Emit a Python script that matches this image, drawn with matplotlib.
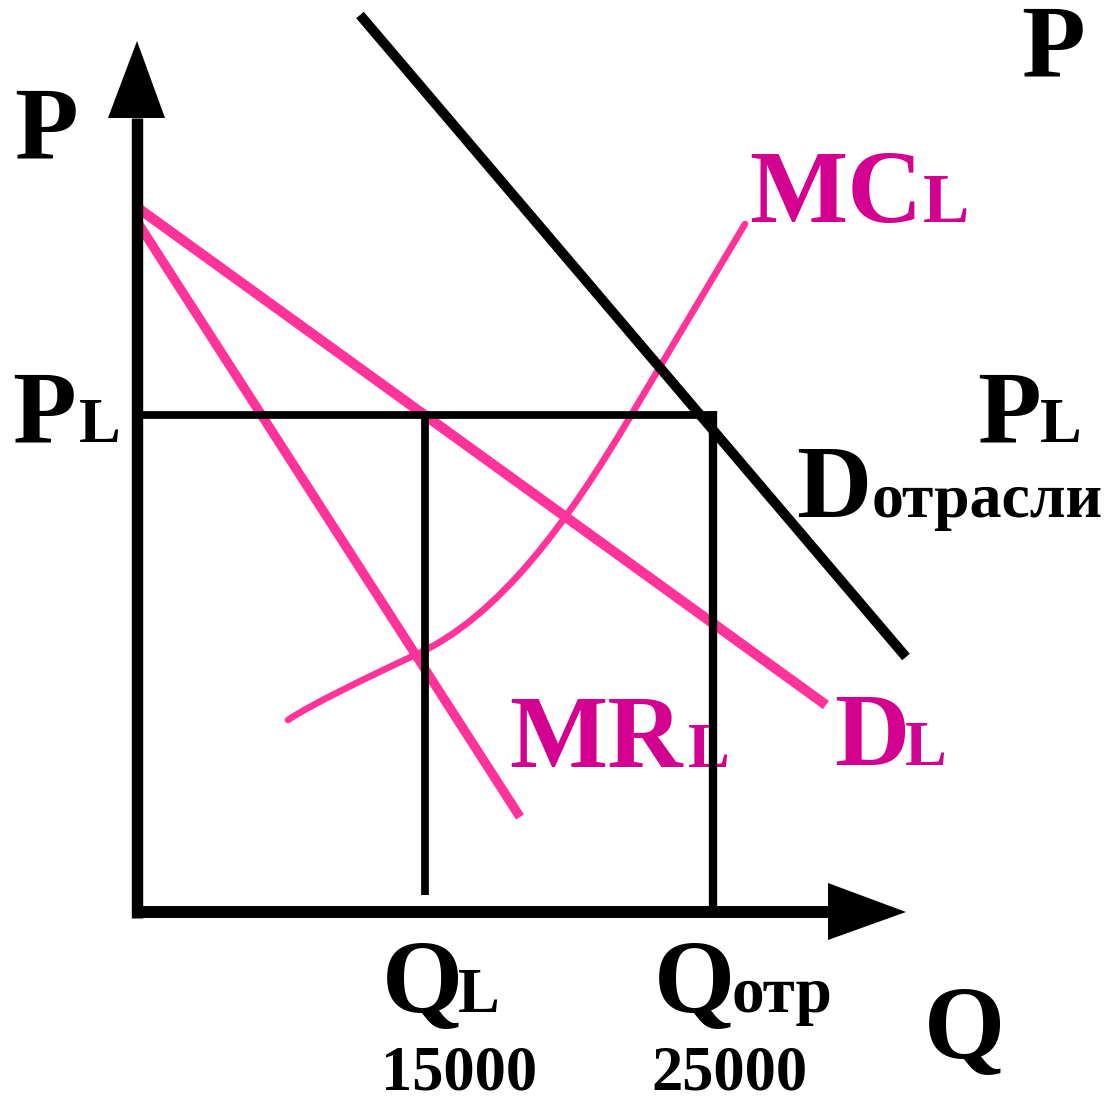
import matplotlib
matplotlib.use("Agg")
import matplotlib.pyplot as plt
from matplotlib.path import Path
from matplotlib.patches import PathPatch

# ---- data (schematic diagram, pixel-like coordinates: x right, y down) ----
industry_D_q = [360, 906]
industry_D_p = [15, 657]

DL_q = [138, 826]
DL_p = [208, 705]

MRL_q = [138, 520]
MRL_p = [223, 817]

# MC curve: anchor and Bezier control points
MC_q = [288, 310, 370, 413, 500, 570, 630, 745]
MC_p = [720, 705, 676, 656, 618, 518, 417, 224]
MC_codes = [Path.MOVETO, Path.CURVE4, Path.CURVE4, Path.CURVE4,
            Path.CURVE4, Path.CURVE4, Path.CURVE4, Path.LINETO]

P_L = 415
Q_L = 425
Q_otr = 713
origin_q = 137
origin_p = 912
q_axis_end = 828
p_axis_end = 118

PINK = "#FF3399"
MAGENTA = "#D4008F"
FONT = "Liberation Serif"

fig = plt.figure(figsize=(11.04, 11.0), dpi=100)
ax = fig.add_axes([0, 0, 1, 1])
ax.set_xlim(0, 1104)
ax.set_ylim(1100, 0)
ax.axis("off")

# pink curves
ax.plot(DL_q, DL_p, color=PINK, lw=7.3, solid_capstyle="butt", zorder=2)
ax.plot(MRL_q, MRL_p, color=PINK, lw=6.8, solid_capstyle="butt", zorder=2)
mc_path = Path(list(zip(MC_q, MC_p)), MC_codes)
ax.add_patch(PathPatch(mc_path, facecolor="none", edgecolor=PINK, lw=4.8,
                       capstyle="round", zorder=2))

# black lines
ax.plot(industry_D_q, industry_D_p, color="black", lw=7.2, solid_capstyle="butt", zorder=5)
ax.plot([origin_q + 6, Q_otr + 4], [P_L, P_L], color="black", lw=5.6, solid_capstyle="butt", zorder=5)
ax.plot([Q_L, Q_L], [P_L, 895], color="black", lw=5.6, solid_capstyle="butt", zorder=5)
ax.plot([Q_otr, Q_otr], [411, 908], color="black", lw=6.0, solid_capstyle="butt", zorder=5)

# axes with arrows
ax.plot([origin_q, origin_q], [918, p_axis_end], color="black", lw=8.2, solid_capstyle="butt", zorder=6)
ax.plot([133, q_axis_end], [origin_p, origin_p], color="black", lw=8.6, solid_capstyle="butt", zorder=6)
ax.fill([108, 165, origin_q], [p_axis_end, p_axis_end, 41], color="black", lw=0, zorder=6)
ax.fill([q_axis_end, q_axis_end, 906], [883, 940, origin_p], color="black", lw=0, zorder=6)

def txt(x, y, s, size, color="black"):
    ax.text(x, y, s, fontsize=size, fontfamily=FONT, fontweight="bold",
            color=color, ha="left", va="baseline", zorder=3)

BIG = 75
SUB = 45

# axis labels
txt(14, 158, "P", BIG)
txt(1021, 77, "P", BIG)
txt(924, 1058, "Q", BIG)

# P_L left and right
txt(12, 442, "P", BIG)
txt(79, 442, "L", SUB)
txt(977, 442, "P", BIG)
txt(1040, 442, "L", SUB)

# D отрасли
txt(796, 517, "D", BIG)
txt(872, 517, "отрасли", 46)

# MC_L
txt(749, 222, "MC", BIG, MAGENTA)
txt(923, 222, "L", 50, MAGENTA)

# MR_L
txt(509, 767, "MR", BIG, MAGENTA)
txt(688, 767, "L", SUB, MAGENTA)

# D_L
txt(834, 765, "D", BIG, MAGENTA)
txt(905, 765, "L", SUB, MAGENTA)

# Q labels
txt(382, 1012, "Q", BIG)
txt(458, 1012, "L", SUB)
txt(654, 1012, "Q", BIG)
txt(731, 1012, "отр", 47)
txt(381, 1090, "15000", 45)
txt(651, 1090, "25000", 45)

fig.savefig("out.png", dpi=100)
